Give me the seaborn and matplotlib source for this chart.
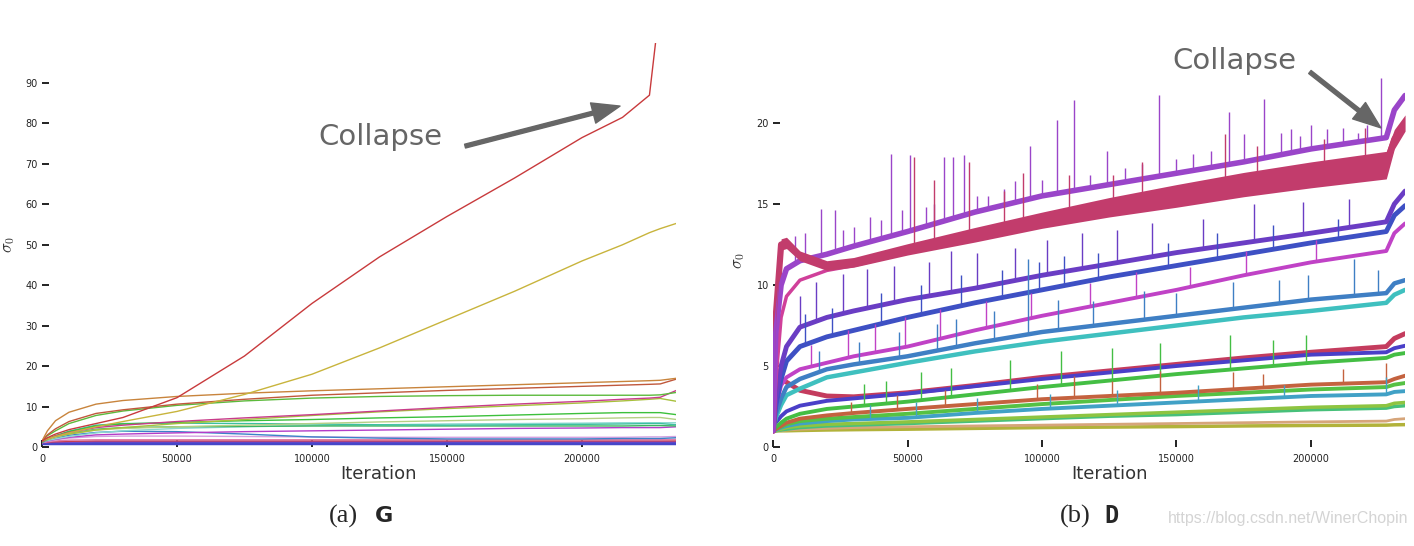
import numpy as np
import pandas as pd
import matplotlib
matplotlib.use("Agg")
import matplotlib.pyplot as plt
import seaborn as sns

# ---- (a) G : sigma_0 per layer, iterations in thousands ----
G_ITER_K = [0, 2, 5, 10, 20, 30, 50, 75, 100, 125, 150, 175, 200, 215, 225, 229, 235]
G_SERIES = {
    "red":         [1.5, 2.3, 3.2, 4.3, 5.8, 7.3, 12.2, 22.5, 35.5, 47.0, 57.0, 66.5, 76.5, 81.5, 87.0, 110.0, 125.0],
    "yellow":      [1.5, 2.0, 2.6, 3.5, 5.0, 6.3, 8.8, 13.0, 18.0, 24.5, 31.5, 38.5, 46.0, 50.0, 53.0, 54.0, 55.3],
    "orange":      [1.5, 4.0, 6.5, 8.6, 10.6, 11.5, 12.5, 13.3, 13.9, 14.4, 14.9, 15.4, 15.9, 16.2, 16.4, 16.5, 17.0],
    "brick":       [1.5, 3.0, 4.5, 6.3, 8.3, 9.2, 10.6, 11.8, 12.8, 13.4, 14.0, 14.5, 15.0, 15.3, 15.5, 15.6, 16.8],
    "green":       [1.5, 2.8, 4.0, 5.8, 7.8, 8.9, 10.3, 11.4, 12.1, 12.5, 12.7, 12.8, 12.8, 12.8, 12.8, 12.9, 13.5],
    "rose":        [1.3, 2.0, 2.7, 3.6, 4.8, 5.4, 6.3, 7.2, 8.0, 8.9, 9.8, 10.6, 11.3, 11.8, 12.1, 12.3, 14.0],
    "yellowgreen": [1.5, 2.0, 2.6, 3.2, 4.2, 4.8, 5.8, 6.8, 7.8, 8.7, 9.5, 10.2, 10.9, 11.4, 11.8, 12.0, 11.3],
    "green2":      [1.2, 2.0, 2.8, 3.8, 5.2, 5.7, 6.1, 6.5, 6.8, 7.2, 7.5, 7.9, 8.3, 8.5, 8.5, 8.5, 8.0],
    "palegreen":   [1.3, 1.8, 2.4, 3.2, 4.2, 4.6, 5.0, 5.4, 5.8, 6.2, 6.5, 6.8, 7.0, 7.2, 7.3, 7.3, 6.8],
    "teal":        [1.2, 1.9, 2.7, 3.9, 5.4, 5.8, 5.9, 5.8, 5.7, 5.5, 5.4, 5.5, 5.6, 5.7, 5.8, 5.8, 5.5],
    "green3":      [1.2, 1.8, 2.5, 3.3, 4.4, 4.8, 5.0, 5.1, 5.2, 5.2, 5.2, 5.2, 5.2, 5.2, 5.3, 5.3, 5.2],
    "paleteal":    [1.2, 1.6, 2.0, 2.6, 3.5, 4.0, 4.6, 5.0, 5.3, 5.5, 5.7, 5.8, 5.9, 6.0, 6.0, 6.0, 6.0],
    "magenta":     [1.2, 1.5, 1.9, 2.4, 3.0, 3.2, 3.5, 3.8, 4.0, 4.2, 4.4, 4.6, 4.7, 4.8, 4.8, 4.8, 5.0],
    "blue":        [1.2, 1.6, 2.2, 2.9, 3.6, 3.9, 3.8, 3.2, 2.5, 2.2, 2.0, 2.0, 2.0, 2.1, 2.1, 2.1, 2.3],
    "lilac":       [1.1, 1.4, 1.8, 2.2, 2.6, 2.7, 2.7, 2.6, 2.5, 2.4, 2.4, 2.4, 2.4, 2.4, 2.5, 2.5, 2.6],
    "pink":        [1.1, 1.3, 1.5, 1.7, 1.8, 1.8, 1.8, 1.8, 1.8, 1.8, 1.8, 1.8, 1.8, 1.8, 1.8, 1.8, 1.9],
    "redpink":     [1.1, 1.2, 1.3, 1.4, 1.5, 1.5, 1.5, 1.5, 1.5, 1.5, 1.5, 1.5, 1.5, 1.5, 1.5, 1.5, 1.5],
    "violet":      [1.0, 1.1, 1.2, 1.2, 1.3, 1.3, 1.3, 1.3, 1.3, 1.3, 1.3, 1.3, 1.3, 1.3, 1.3, 1.3, 1.3],
    "indigo":      [1.0, 1.0, 1.0, 1.0, 1.0, 1.0, 1.0, 1.0, 1.0, 1.0, 1.0, 1.0, 1.0, 1.0, 1.0, 1.0, 1.0],
}
G_COLORS = {
    "red": "#c83a3c", "yellow": "#c8b43c", "orange": "#c8843c", "brick": "#c0583c",
    "green": "#5cba3c", "rose": "#c83c8a", "yellowgreen": "#a8c03c", "green2": "#3cc03c",
    "palegreen": "#b4d084", "teal": "#3cc0a0", "green3": "#3cb460", "paleteal": "#8cd8d0",
    "magenta": "#b43cc8", "blue": "#3c82c8", "lilac": "#d4a0e0", "pink": "#e07aa8",
    "redpink": "#c83c50", "violet": "#7c4ac8", "indigo": "#4646c8",
}
G_WIDTHS = {k: 1.0 for k in G_SERIES}
G_WIDTHS["indigo"] = 2.5

# ---- (b) D ----
D_ITER_K = [0, 1, 3, 5, 10, 20, 30, 50, 75, 100, 125, 150, 175, 200, 228, 231, 235]
D_SERIES = {
    "purple":    [1.0, 7.0, 10.0, 11.0, 11.5, 11.9, 12.4, 13.3, 14.5, 15.5, 16.2, 16.9, 17.6, 18.4, 19.1, 20.8, 21.7],
    "pink":      [1.0, 4.0, 8.0, 9.3, 10.3, 10.9, 11.2, 12.0, 13.0, 13.9, 14.7, 15.4, 16.1, 16.7, 17.3, 18.8, 19.8],
    "crimson":   [1.0, 8.0, 12.5, 12.6, 11.8, 11.2, 11.4, 12.2, 13.1, 14.0, 14.8, 15.5, 16.2, 16.8, 17.4, 19.0, 20.0],
    "indigo":    [1.0, 3.0, 5.0, 6.2, 7.4, 8.0, 8.4, 9.1, 9.8, 10.6, 11.3, 12.0, 12.6, 13.2, 13.9, 15.0, 15.8],
    "blue":      [1.0, 2.5, 4.2, 5.3, 6.2, 6.8, 7.2, 8.0, 8.9, 9.7, 10.5, 11.2, 11.9, 12.6, 13.3, 14.3, 14.9],
    "magenta":   [1.0, 2.5, 3.8, 4.3, 4.8, 5.2, 5.6, 6.2, 7.2, 8.1, 8.9, 9.7, 10.6, 11.4, 12.1, 13.2, 13.8],
    "steel":     [1.0, 2.0, 3.0, 3.7, 4.2, 4.8, 5.1, 5.6, 6.4, 7.1, 7.6, 8.1, 8.6, 9.1, 9.5, 10.1, 10.3],
    "turquoise": [1.0, 1.8, 2.6, 3.2, 3.6, 4.3, 4.6, 5.2, 5.9, 6.5, 7.0, 7.5, 8.0, 8.4, 8.9, 9.4, 9.7],
    "green":     [1.0, 1.2, 1.5, 1.75, 2.05, 2.35, 2.5, 2.8, 3.25, 3.7, 4.1, 4.5, 4.85, 5.2, 5.5, 5.7, 5.8],
    "indigo2":   [1.0, 1.5, 1.9, 2.2, 2.55, 2.85, 3.0, 3.3, 3.75, 4.2, 4.6, 5.0, 5.35, 5.7, 5.85, 6.1, 6.25],
    "crimson2":  [1.0, 3.0, 4.2, 4.0, 3.5, 3.15, 3.1, 3.35, 3.8, 4.3, 4.7, 5.1, 5.5, 5.85, 6.2, 6.7, 7.0],
    "rust":      [1.0, 1.1, 1.3, 1.5, 1.75, 1.95, 2.1, 2.35, 2.65, 2.95, 3.15, 3.35, 3.6, 3.85, 4.0, 4.2, 4.4],
    "green2":    [1.0, 1.1, 1.25, 1.4, 1.6, 1.75, 1.85, 2.05, 2.35, 2.65, 2.9, 3.15, 3.35, 3.55, 3.7, 3.85, 3.95],
    "sky":       [1.0, 1.05, 1.2, 1.3, 1.45, 1.6, 1.7, 1.8, 2.1, 2.35, 2.55, 2.75, 2.95, 3.15, 3.25, 3.4, 3.45],
    "yellowgreen": [1.0, 1.0, 1.1, 1.2, 1.3, 1.4, 1.45, 1.55, 1.7, 1.85, 2.0, 2.15, 2.3, 2.45, 2.55, 2.7, 2.75],
    "seagreen":  [1.0, 1.0, 1.05, 1.1, 1.2, 1.3, 1.35, 1.45, 1.6, 1.75, 1.9, 2.0, 2.15, 2.3, 2.4, 2.5, 2.55],
    "tan":       [1.0, 1.0, 1.0, 1.05, 1.1, 1.15, 1.2, 1.25, 1.3, 1.35, 1.4, 1.45, 1.5, 1.55, 1.6, 1.7, 1.75],
    "olive":     [1.0, 1.0, 1.0, 1.0, 1.02, 1.05, 1.07, 1.1, 1.15, 1.2, 1.23, 1.26, 1.3, 1.33, 1.35, 1.37, 1.38],
}
D_COLORS = {
    "purple": "#9a45c9", "pink": "#d0409a", "crimson": "#c23c6c", "indigo": "#6a3dc4",
    "blue": "#3e50c4", "magenta": "#c042c6", "steel": "#3f7fc4", "turquoise": "#3fc0bf",
    "green": "#44be44", "indigo2": "#4a3fc8", "crimson2": "#c43c5e", "rust": "#c4623f",
    "green2": "#56c144", "sky": "#41a1c6", "yellowgreen": "#8ec441", "seagreen": "#47c07a",
    "tan": "#d6a57a", "olive": "#b2b23a",
}
D_WIDTHS = {
    "purple": 4.0, "pink": 2.5, "crimson": 4.5, "indigo": 3.5, "blue": 3.5, "magenta": 2.8,
    "steel": 3.2, "turquoise": 3.2, "green": 2.8, "indigo2": 2.8, "crimson2": 3.5, "rust": 2.8,
    "green2": 2.8, "sky": 2.8, "yellowgreen": 2.5, "seagreen": 2.5, "tan": 2.0, "olive": 2.5,
}
# half-width of the noisy crimson band
CRIMSON_SPREAD = [0, 0.2, 0.35, 0.35, 0.3, 0.3, 0.3, 0.35, 0.45, 0.5, 0.6, 0.7, 0.75, 0.8, 0.85, 0.6, 0.5]

# spikes: (iteration k, peak sigma) per series
D_SPIKES = {
    "purple": [(18, 14.7), (23, 14.6), (30, 13.6), (36, 14.2), (44, 18.1), (51, 18.0), (57, 14.8),
               (63.5, 17.9), (67, 17.9), (71, 18.0), (80, 15.5), (95.6, 18.6), (105.7, 20.2),
               (112, 21.4), (124, 18.3), (131, 17.2), (143.6, 21.7), (156, 18.1), (169.7, 20.7),
               (175, 19.3), (182.7, 21.5), (189, 19.4), (192.5, 19.6), (200, 19.9), (212, 19.7),
               (217.4, 19.4), (226, 22.8), (8, 13.0), (12, 13.2), (26, 13.4), (40, 14.0), (48, 14.6),
               (60, 15.0), (76, 15.5), (86, 15.9), (90, 16.4), (100, 16.5), (118, 16.8), (137, 17.5),
               (150, 17.8), (163, 18.3), (196, 19.2), (206, 19.6), (221, 19.9)],
    "crimson": [(52.4, 17.9), (60, 16.5), (73, 17.6), (86, 15.8), (93, 16.9), (110, 16.8),
                (126.5, 16.8), (137, 17.6), (168, 19.3), (180, 18.6), (205, 19.0), (220, 19.7)],
    "indigo": [(10, 9.3), (16, 10.2), (26, 10.7), (35, 11.0), (45, 11.2), (58, 11.4), (66, 12.1),
               (76, 12.0), (90, 12.3), (102, 12.8), (115, 13.2), (128, 13.4), (141, 13.8),
               (160, 14.1), (179, 15.0), (197, 15.1), (214, 15.3)],
    "blue": [(12, 8.2), (22, 8.6), (40, 9.5), (55, 10.0), (70, 10.6), (85, 10.9), (99, 11.4),
             (108, 11.8), (121, 12.0), (147, 12.6), (165, 13.2), (186, 13.7), (210, 14.1)],
    "magenta": [(14, 6.3), (28, 7.2), (38, 7.6), (49, 8.0), (62, 8.5), (79, 9.0), (96, 9.5),
                (118, 10.1), (135, 10.8), (155, 11.1), (176, 12.1), (202, 12.8)],
    "steel": [(17, 5.9), (32, 6.5), (47, 7.1), (61, 7.6), (68, 7.9), (82, 8.4), (94.8, 11.6),
              (106, 9.1), (119, 9.0), (138, 9.6), (150, 9.5), (171, 10.2), (188, 10.3),
              (199, 10.6), (216, 11.6), (225, 10.9)],
    "green": [(34, 3.9), (42, 4.1), (55, 4.6), (66, 4.9), (88, 5.4), (107, 5.9), (126, 6.1),
              (144, 6.4), (170, 6.9), (186, 6.6), (198, 6.9)],
    "rust": [(29, 2.8), (46, 3.2), (64, 3.5), (98, 3.9), (112, 4.4), (126, 4.1), (144, 4.7),
             (171, 4.6), (182, 4.5), (212, 4.8), (228, 5.2)],
    "sky": [(36, 2.6), (53, 2.8), (76, 3.0), (103, 3.3), (128, 3.5), (158, 3.8), (190, 3.8), (228, 4.3)],
}

X_TICKS = [0, 50000, 100000, 150000, 200000]
G_YTICKS = [0, 10, 20, 30, 40, 50, 60, 70, 80, 90]
D_YTICKS = [0, 5, 10, 15, 20]


def long_frame(iter_k, series):
    rows = []
    for name, vals in series.items():
        for k, v in zip(iter_k, vals):
            rows.append({"iteration": k * 1000, "sigma": v, "layer": name})
    return pd.DataFrame(rows)


def style_axes(ax, yticks, ylim):
    for side in ["top", "right", "left", "bottom"]:
        ax.spines[side].set_visible(False)
    ax.set_xlim(0, 235000)
    ax.set_ylim(*ylim)
    ax.set_xticks(X_TICKS)
    ax.set_xticklabels([str(t) for t in X_TICKS])
    ax.set_yticks(yticks)
    ax.tick_params(direction="in", length=5, width=1.4, color="#222222",
                   labelsize=7, labelcolor="#222222")
    ax.tick_params(axis="x", pad=5)
    ax.tick_params(axis="y", pad=3)
    ax.set_xlabel("Iteration", fontsize=13, color="#333333")
    ax.set_ylabel(r"$\sigma_0$", fontsize=12, color="#333333")


def main() -> None:
    sns.set_theme(style="ticks")
    plt.rcParams["mathtext.fontset"] = "cm"
    plt.rcParams["font.family"] = ["DejaVu Sans"]

    fig = plt.figure(figsize=(14.14, 5.46), dpi=100)
    ax_g = fig.add_axes([0.0297, 0.1813, 0.4487, 0.7407])
    ax_d = fig.add_axes([0.5467, 0.1813, 0.4470, 0.6824])

    # (a) G
    g_df = long_frame(G_ITER_K, G_SERIES)
    sns.lineplot(data=g_df, x="iteration", y="sigma", hue="layer", size="layer",
                 hue_order=list(G_SERIES)[::-1], palette=G_COLORS, sizes=G_WIDTHS,
                 estimator=None, sort=False, legend=False, ax=ax_g)
    style_axes(ax_g, G_YTICKS, (0, 100))
    ax_g.yaxis.set_label_coords(-0.039, 0.5)
    ax_g.xaxis.set_label_coords(0.531, -0.045)
    ax_g.text(125200, 76.7, "Collapse", fontsize=21, color="#666666", ha="center", va="center")
    ax_g.annotate("", xy=(214100, 84.3), xytext=(156700, 74.4), annotation_clip=False,
                  arrowprops=dict(arrowstyle="simple,head_length=1.0,head_width=0.75,tail_width=0.14",
                                  mutation_scale=20, color="#666666", shrinkA=0, shrinkB=0))

    # (b) D
    d_df = long_frame(D_ITER_K, D_SERIES)
    order = list(D_SERIES)[::-1]
    sns.lineplot(data=d_df, x="iteration", y="sigma", hue="layer", size="layer",
                 hue_order=order, palette=D_COLORS, sizes=D_WIDTHS,
                 estimator=None, sort=False, legend=False, ax=ax_d)
    d_x = np.array(D_ITER_K) * 1000
    crimson = np.array(D_SERIES["crimson"])
    spread = np.array(CRIMSON_SPREAD)
    ax_d.fill_between(d_x, crimson - spread, crimson + spread, color=D_COLORS["crimson"],
                      lw=0, zorder=2.5)
    for name, spikes in D_SPIKES.items():
        sx = np.array([s[0] for s in spikes]) * 1000
        top = np.array([s[1] for s in spikes])
        base = np.interp(sx, d_x, D_SERIES[name])
        ax_d.vlines(sx, base, top, colors=D_COLORS[name], lw=1.0, zorder=2.2)
    style_axes(ax_d, D_YTICKS, (0, 23))
    ax_d.yaxis.set_label_coords(-0.041, 0.5)
    ax_d.xaxis.set_label_coords(0.533, -0.049)
    ax_d.text(171700, 23.83, "Collapse", fontsize=21, color="#666666", ha="center", va="center")
    ax_d.annotate("", xy=(226000, 19.7), xytext=(199600, 23.15), annotation_clip=False,
                  arrowprops=dict(arrowstyle="simple,head_length=1.0,head_width=0.75,tail_width=0.14",
                                  mutation_scale=20, color="#666666", shrinkA=0, shrinkB=0))

    # captions and watermark
    cap_y = 1 - 516 / 546
    fig.text(343 / 1414, cap_y, "(a)", family="Liberation Serif", fontsize=19, ha="center", va="center")
    fig.text(384 / 1414, cap_y, "G", family="DejaVu Sans", fontweight="bold", fontsize=16,
             ha="center", va="center")
    fig.text(1075 / 1414, cap_y, "(b)", family="Liberation Serif", fontsize=19, ha="center", va="center")
    fig.text(1111 / 1414, cap_y, "D", family="DejaVu Sans Mono", fontweight="bold", fontsize=17,
             ha="center", va="center")
    fig.text(1168 / 1414, 1 - 519 / 546, "https://blog.csdn.net/WinerChopin",
             family="Liberation Sans", fontsize=11.5, color="#d4d4d4", ha="left", va="center")

    fig.savefig("out.png", dpi=100)
    plt.close(fig)


if __name__ == "__main__":
    main()
